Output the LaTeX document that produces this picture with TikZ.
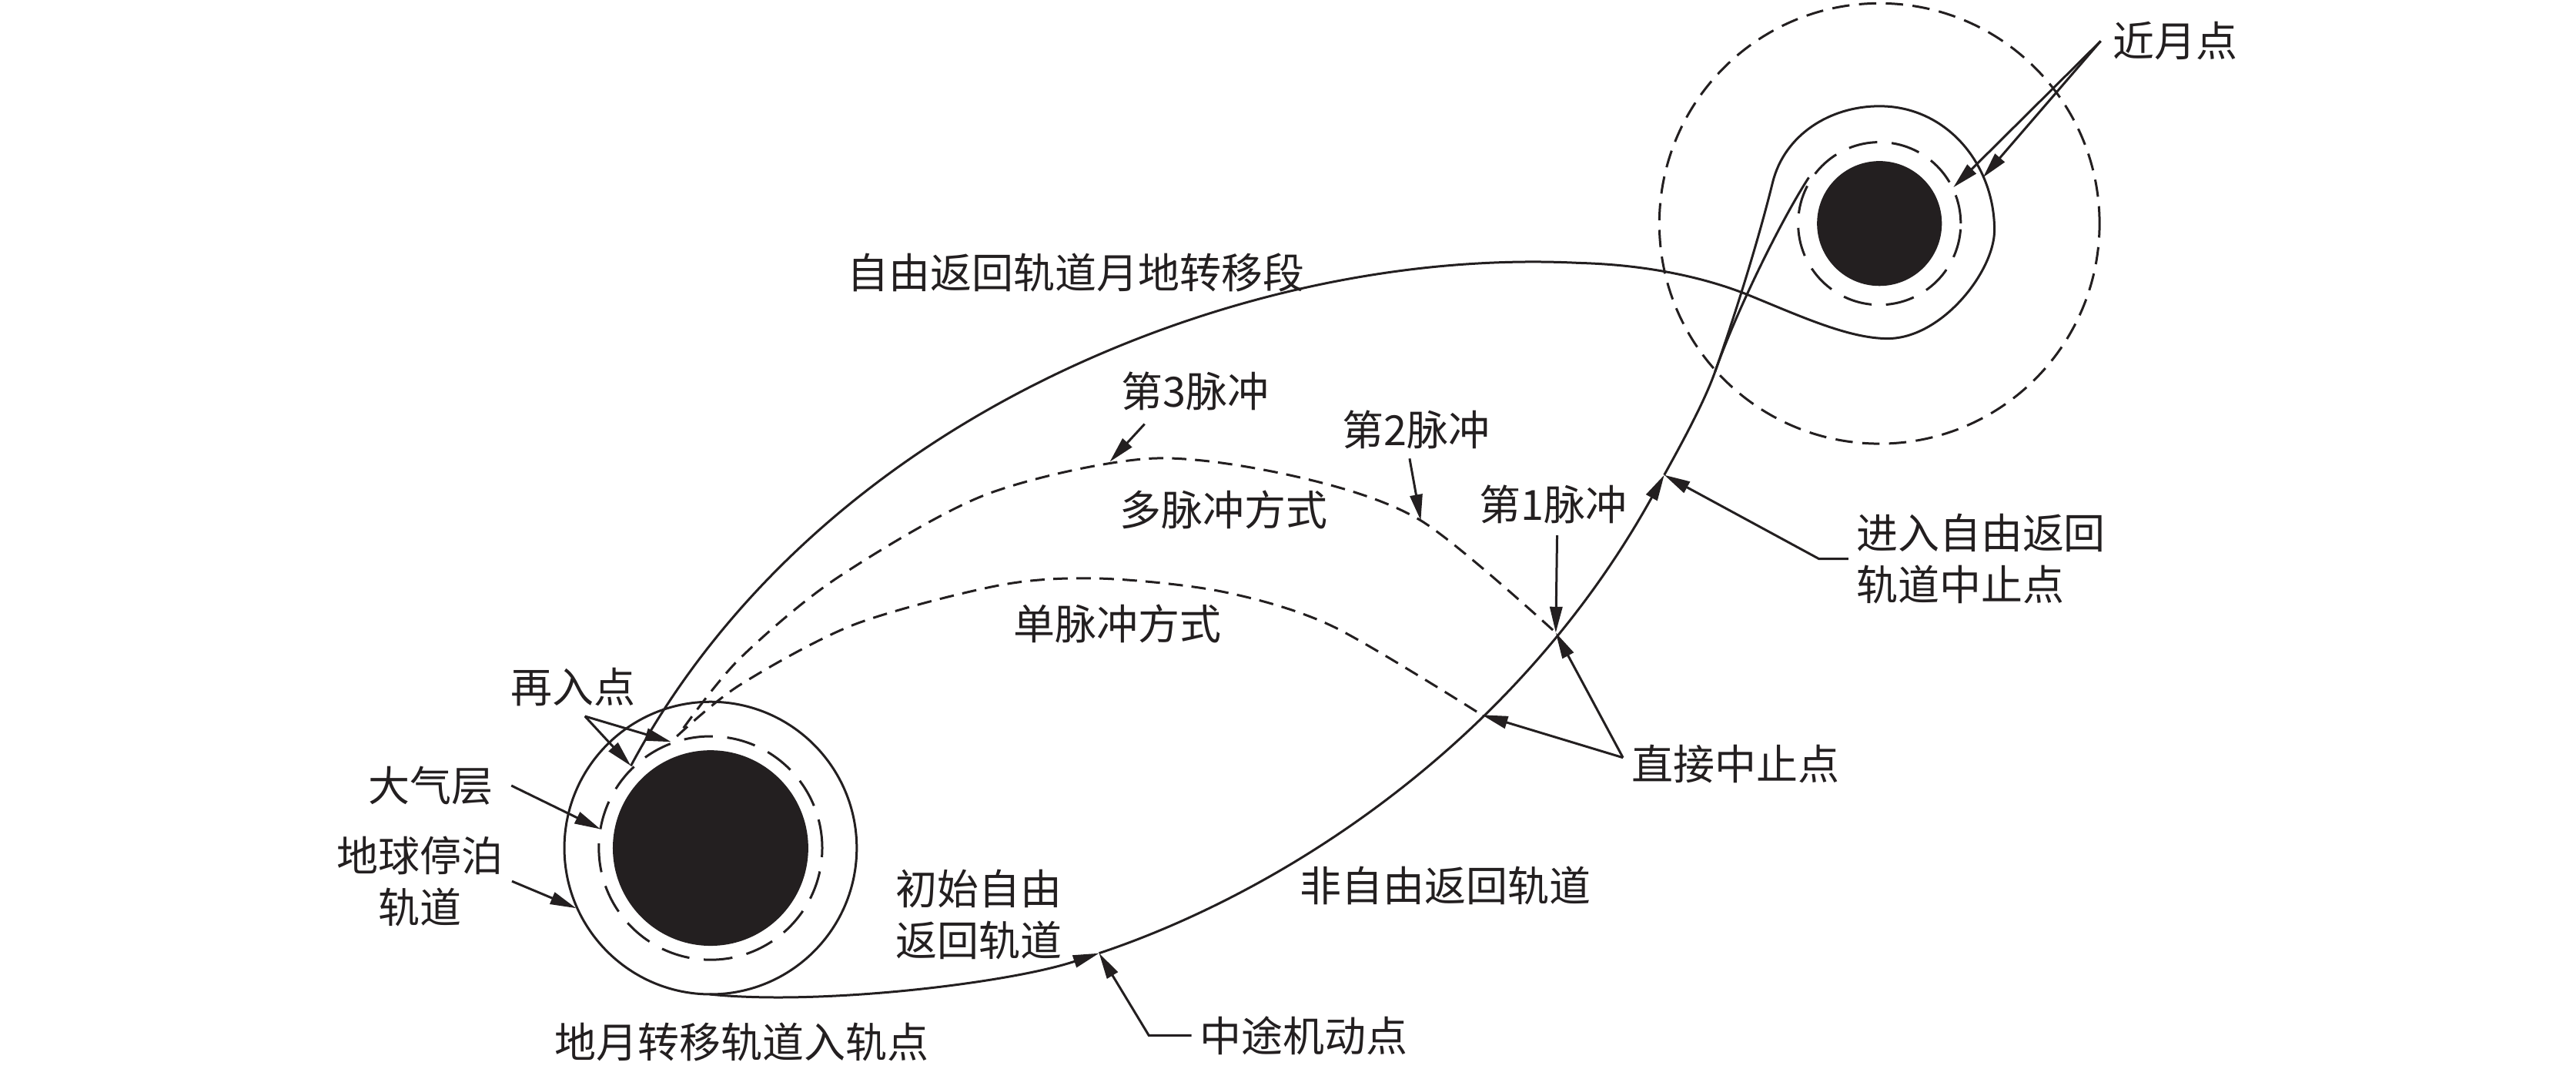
\documentclass[tikz,border=0pt]{standalone}
\usepackage{fontspec}
\setmainfont{Noto Sans CJK SC}
\usetikzlibrary{arrows.meta}
\definecolor{ink}{RGB}{35,31,32}
\tikzset{
  lbl/.style={font=\fontsize{14.4pt}{17.8pt}\selectfont, inner sep=0pt},
  orbit/.style={line width=0.8pt},
  lead/.style={line width=0.8pt, -{Triangle[length=9pt,width=4.3pt]}},
  atmos/.style={line width=0.8pt, dash pattern=on 10pt off 5pt},
  soi/.style={line width=0.8pt, dash pattern=on 6pt off 3.3pt},
  pulse/.style={line width=0.8pt, dash pattern=on 5pt off 3pt},
}
\begin{document}
\begin{tikzpicture}[x=0.02cm, y=-0.02cm, color=ink]
  \useasboundingbox (0,0) rectangle (1568,650.4);
  % earth
  \begin{scope}[shift={(432.5,516)}]
    \fill (0,0) circle[radius=1.19cm];
    \draw[atmos] (0,0) circle[radius=1.36cm];
    \draw[orbit] (0,0) circle[radius=1.78cm];
  \end{scope}
  % moon
  \begin{scope}[shift={(1144,136)}]
    \fill (0,0) circle[radius=0.76cm];
    \draw[atmos] (0,0) circle[radius=0.99cm];
    \draw[soi] (0,0) circle[radius=2.68cm];
  \end{scope}

  \coordinate (inj) at (432,605);
  \coordinate (mid) at (669,580);
  \coordinate (abort) at (1013,289);
  \coordinate (fork) at (1044,226);
  \coordinate (imp1) at (947,385);
  \coordinate (imp2) at (864.8,316.7);
  \coordinate (imp3) at (675.5,281);
  \coordinate (direct) at (902,435);
  \coordinate (reentA) at (408.5,451.4);
  \coordinate (reentB) at (384,466);
  \coordinate (atmpt) at (365.5,504.5);
  \coordinate (parkpt) at (350.7,552.6);
  \coordinate (periA) at (1189,114);
  \coordinate (periB) at (1207,108);
  \coordinate (llo) at (1101,108);

  % transfer trajectory
  \draw[lead] (inj) .. controls (500,612) and (615,598) .. (mid);
  \draw[lead] (mid) .. controls (780,543) and (922,453) .. (abort);
  \draw[orbit] (abort) .. controls (1022.7,271.5) and (1037.4,244.8) .. (fork);
  % free return
  \draw[orbit] (fork) .. controls (1057.2,188.4) and (1070.6,145) .. (1079,111)
    .. controls (1086.2,81.9) and (1114,64.6) .. (1144,64.6)
    .. controls (1185,64.6) and (1214,100) .. (1214,140)
    .. controls (1214,165) and (1182,206) .. (1149,206)
    .. controls (1125,206) and (1095,192) .. (1063,179)
    .. controls (1035,168) and (1000,161) .. (961,160)
    .. controls (871,155.5) and (767,173) .. (666,217)
    .. controls (528.5,276.9) and (435.7,369.2) .. (reentB);
  % non free return
  \draw[orbit] (fork) .. controls (1057,189) and (1084.6,133.1) .. (llo);
  % abort returns
  \draw[pulse] plot[smooth] coordinates {(416,443) (450,401) (509,352) (600,301)
    (700,279) (789,290) (imp2) (imp1)};
  \draw[pulse] plot[smooth] coordinates {(412,448) (450,417) (520,380) (609,356)
    (670,352) (744,360) (811,381) (direct)};

  \node[lbl] (peri) at (1324,25) {近月点};
  \node[lbl] (ftlbl) at (655,166) {自由返回轨道月地转移段};
  \node[lbl] (p3) at (727.7,238) {第3脉冲};
  \node[lbl] (p2) at (862,261.6) {第2脉冲};
  \node[lbl] (multi) at (745,310) {多脉冲方式};
  \node[lbl] (p1) at (945.5,307) {第1脉冲};
  \node[lbl] (single) at (680,379.5) {单脉冲方式};
  \node[lbl, anchor=west, align=left] (abortlbl) at (1129.5,340) {进入自由返回\\轨道中止点};
  \node[lbl] (directlbl) at (1056.5,465) {直接中止点};
  \node[lbl] (reentry) at (349,417.8) {再入点};
  \node[lbl] (atm) at (262.4,478) {大气层};
  \node[lbl, align=center] (park) at (255.4,536.2) {地球停泊\\轨道};
  \node[lbl, align=left] (initfr) at (596,556.5) {初始自由\\返回轨道};
  \node[lbl] (tli) at (451.3,634) {地月转移轨道入轨点};
  \node[lbl] (midlbl) at (793.8,630) {中途机动点};
  \node[lbl] (nfr) at (880,539) {非自由返回轨道};

  \draw[lead] ([xshift=-4pt]peri.west) -- (periA);
  \draw[lead] ([xshift=-4pt]peri.west) -- (periB);
  \draw[lead] ([shift={(-31,20)}]p3.center) -- (imp3);
  \draw[lead] ([shift={(-4,17.4)}]p2.center) -- (imp2);
  \draw[lead] ([shift={(2.3,18.7)}]p1.center) -- (imp1);
  \draw[lead] ([xshift=-2.5pt]abortlbl.west) -- ++(-18,0) -- (abort);
  \draw[lead] ([shift={(-5,-4)}]directlbl.west) -- (direct);
  \draw[lead] ([shift={(-5,-4)}]directlbl.west) -- (imp1);
  \draw[lead] ([shift={(7,18)}]reentry.center) -- (reentA);
  \draw[lead] ([shift={(7,18)}]reentry.center) -- (reentB);
  \draw[lead] ([xshift=6pt]atm.east) -- (atmpt);
  \draw[lead] ([xshift=3pt]park.east) -- (parkpt);
  \draw[lead] ([xshift=-2.8pt]midlbl.west) -- ++(-26,0) -- (mid);
\end{tikzpicture}
\end{document}
